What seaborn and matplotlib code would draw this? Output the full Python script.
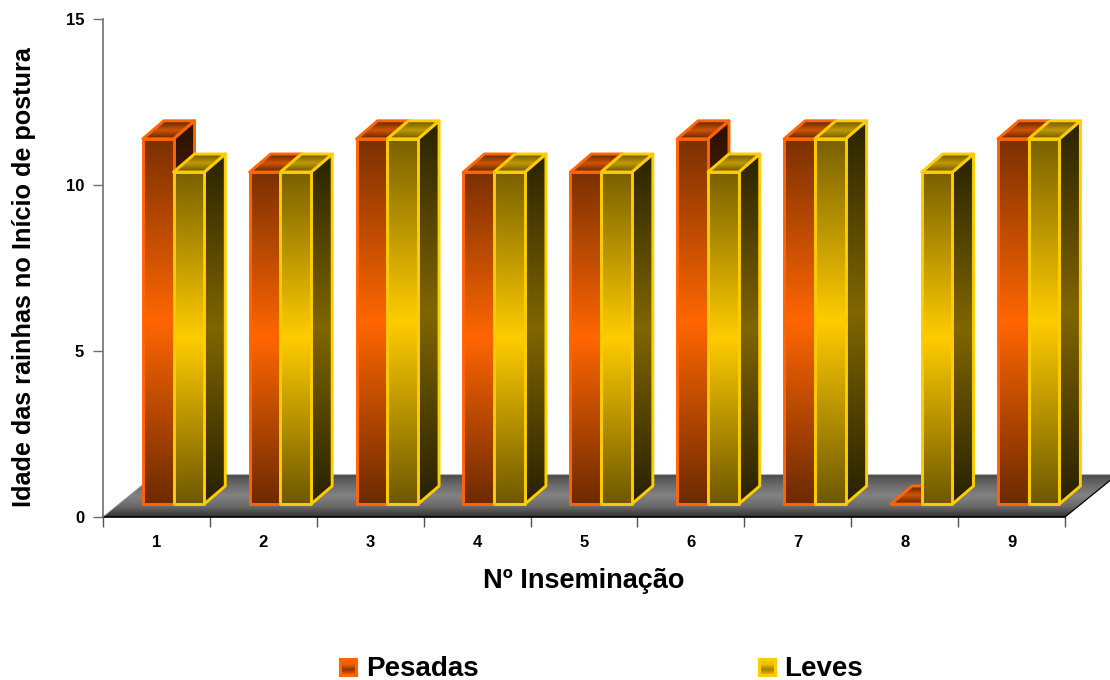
import numpy as np
import pandas as pd
import matplotlib
matplotlib.use("Agg")
import matplotlib.pyplot as plt
import seaborn as sns
from matplotlib.colors import LinearSegmentedColormap
from matplotlib.patches import Polygon

categories = ["1", "2", "3", "4", "5", "6", "7", "8", "9"]
pesadas = [11, 10, 11, 10, 10, 11, 11, 0, 11]
leves = [10, 10, 11, 10, 10, 10, 11, 10, 11]
series_names = ["Pesadas", "Leves"]
y_ticks = [0, 5, 10, 15]

sns.set_theme(style="white")
plt.rcParams["font.family"] = ["Liberation Sans", "DejaVu Sans"]

W, H = 1110, 680
fig = plt.figure(figsize=(W / 100, H / 100), dpi=100, facecolor="white")
ax = fig.add_axes([103 / W, 1 - 517 / H, 962 / W, 498 / H])

df = pd.DataFrame({
    "inseminacao": categories * 2,
    "idade": pesadas + leves,
    "grupo": [series_names[0]] * 9 + [series_names[1]] * 9,
})

sns.barplot(data=df, x="inseminacao", y="idade", hue="grupo", order=categories,
            hue_order=series_names, palette=["#FF6600", "#FFCC00"],
            width=0.575, gap=0, saturation=1, dodge=True, legend=False,
            errorbar=None, ax=ax)

ax.set_xlim(-0.5, 8.5)
ax.set_ylim(0, 15)
ax.set_autoscale_on(False)

# oblique projection used for the bar depth and for the floor
depth_x, depth_y = 21 / 106.9, 18 / 33.2
floor_x, floor_y = 53 / 106.9, 43 / 33.2
base_y = 13 / 33.2
shift_x = 0.16
edge_width = 2.1


def ramp(*colors):
    return LinearSegmentedColormap.from_list("ramp", colors)


def gradient_face(points, cmap, zorder, edge=None, lw=edge_width):
    """Fill a polygon with a vertical gradient, optionally outlining it."""
    pts = np.asarray(points, dtype=float)
    clip = Polygon(pts, closed=True, transform=ax.transData)
    im = ax.imshow(np.linspace(0, 1, 256)[:, None], cmap=cmap, aspect="auto",
                   origin="upper", interpolation="bilinear", zorder=zorder,
                   extent=[pts[:, 0].min(), pts[:, 0].max(),
                           pts[:, 1].min(), pts[:, 1].max()])
    im.set_clip_box(fig.bbox)
    im.set_clip_path(clip)
    if edge is not None:
        ax.add_patch(Polygon(pts, closed=True, fill=False, edgecolor=edge,
                             linewidth=lw, joinstyle="round", zorder=zorder + 0.1,
                             clip_on=False))


# gray floor under the bars
gradient_face([(-0.5, 0), (8.5, 0), (8.5 + floor_x, floor_y), (-0.5 + floor_x, floor_y)],
              ramp("#484848", "#6a6a6a", "#828282", "#6a6a6a", "#303030"), 1)
ax.plot([8.5, 8.5 + floor_x], [0, floor_y], color="black", lw=0.9, zorder=1.2, clip_on=False)
ax.plot([-0.5 + floor_x, 8.5 + floor_x], [floor_y, floor_y], color="#b0b0b0", lw=0.8,
        zorder=1.2, clip_on=False)
ax.plot([-0.5, -0.5 + floor_x], [0, floor_y], color="#909090", lw=0.5, zorder=1.2)

styles = [
    dict(edge="#FF6600", z=3,
         front=ramp("#7A3000", "#FF6600", "#6C2A00"),
         side=ramp("#281100", "#803300", "#281100"),
         top=ramp("#5A2600", "#D05400", "#5A2600")),
    dict(edge="#FFCC00", z=4,
         front=ramp("#786000", "#FFCC00", "#6E5800"),
         side=ramp("#282200", "#806600", "#262000"),
         top=ramp("#6A5500", "#C09A00", "#6A5500")),
]

bars = [p for p in ax.patches]
for i, patch in enumerate(bars):
    style = styles[i // 9]
    height = patch.get_height()
    x0 = patch.get_x() + shift_x
    x1 = x0 + patch.get_width()
    y0, y1 = base_y, base_y + height
    patch.set_x(x0)
    patch.set_y(y0)
    patch.set_facecolor("none")
    patch.set_edgecolor(style["edge"])
    patch.set_linewidth(edge_width)
    patch.set_joinstyle("round")
    patch.set_zorder(style["z"] + 0.5)
    z = style["z"]
    if height > 0:
        gradient_face([(x1, y0), (x1 + depth_x, y0 + depth_y),
                       (x1 + depth_x, y1 + depth_y), (x1, y1)],
                      style["side"], z, style["edge"])
        gradient_face([(x0, y0), (x1, y0), (x1, y1), (x0, y1)],
                      style["front"], z + 0.3)
    gradient_face([(x0, y1), (x1, y1), (x1 + depth_x, y1 + depth_y), (x0 + depth_x, y1 + depth_y)],
                  style["top"], z + 0.2, style["edge"])

# axes, ticks and labels
sns.despine(ax=ax)
ax.spines["left"].set_color("#707070")
ax.spines["left"].set_linewidth(1.2)
ax.spines["bottom"].set_color("black")
ax.spines["bottom"].set_linewidth(1.2)
ax.spines["bottom"].set_zorder(2)

ax.set_yticks(y_ticks)
ax.set_yticklabels([str(v) for v in y_ticks], fontsize=12, fontweight="bold", color="black")
ax.tick_params(axis="y", length=7.5, width=1.0, color="#707070", pad=6, left=True)
ax.set_xticks(np.arange(9))
ax.set_xticklabels(categories, fontsize=12, fontweight="bold", color="black")
ax.set_xticks(np.arange(-0.5, 9), minor=True)
ax.tick_params(axis="x", which="major", length=0, pad=13)
ax.tick_params(axis="x", which="minor", length=7.5, width=1.0, color="#505050", bottom=True)

ax.set_xlabel("Nº Inseminação", fontsize=19.5, fontweight="bold", color="black", va="center")
ax.xaxis.set_label_coords(0.5, -0.1285)
ax.set_ylabel("Idade das rainhas no Início de postura", fontsize=18.2, fontweight="bold",
              color="black", va="center")
ax.yaxis.set_label_coords(-0.082, 0.482)


# legend entries with small gradient swatches
def legend_entry(px, text_px, label, edge, mid, band):
    swatch = fig.add_axes([px / W, 1 - 675 / H, 16 / W, 16 / H])
    swatch.imshow(np.linspace(0, 1, 64)[:, None], aspect="auto",
                  cmap=ramp(mid, mid, band, mid), interpolation="bilinear")
    swatch.set_xticks([])
    swatch.set_yticks([])
    for spine in swatch.spines.values():
        spine.set_visible(True)
        spine.set_color(edge)
        spine.set_linewidth(2.2)
    fig.text(text_px / W, 1 - 668.5 / H, label, fontsize=20, fontweight="bold",
             color="black", va="center", ha="left")


legend_entry(339.5, 366, series_names[0], "#FF6600", "#F06000", "#8A3800")
legend_entry(758.5, 784, series_names[1], "#FFCC00", "#F0C000", "#A08000")

fig.savefig("out.png", dpi=100, facecolor="white")
